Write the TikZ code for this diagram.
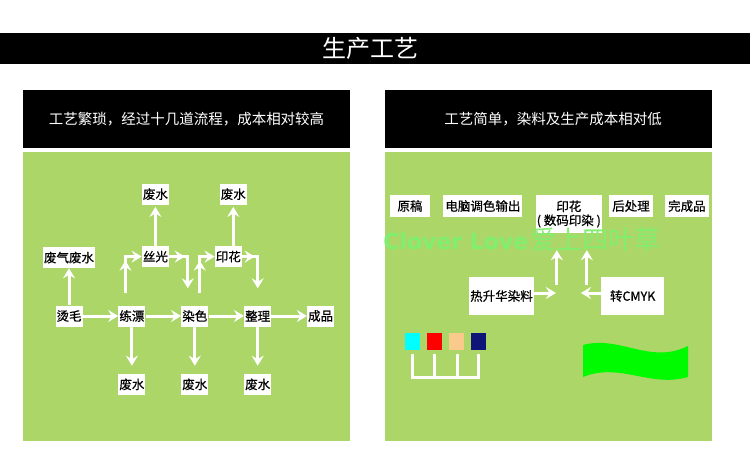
\documentclass[tikz,border=0pt]{standalone}
\usepackage{fontspec}
\setmainfont{Noto Sans CJK SC}
\newfontfamily\boxfont{Noto Sans CJK SC}[FakeBold=0.7]
\newfontfamily\wmfont{DejaVu Sans}
\usetikzlibrary{positioning,arrows.meta}
\definecolor{leaf}{RGB}{173,214,105}
\definecolor{wmgreen}{RGB}{128,238,110}
\definecolor{aqua}{RGB}{0,255,255}
\definecolor{skin}{RGB}{250,202,140}
\definecolor{ink}{RGB}{14,20,120}
\definecolor{flaggreen}{RGB}{0,250,0}
\tikzstyle{box} = [rectangle,
                    fill=white,
                    inner xsep=1pt,
                    inner ysep=0pt,
                    minimum height=21pt,
                    text centered,
                    font=\boxfont\fontsize{12.5}{14}\selectfont]
\tikzstyle{rbox} = [box,
                    minimum height=22pt,
                    font=\boxfont\fontsize{12.5}{14}\selectfont]
\tikzstyle{arr} = [draw=white,
                    line width=3pt,
                    -{Stealth[length=10pt,width=12pt,inset=3.5pt]}]

\begin{document}
\begin{tikzpicture}[x=1pt, y=1pt, node distance=35.5pt]
\useasboundingbox (0,0) rectangle (750,448);
\fill[black] (0,384) rectangle (750,415);
\node (t0) at (370,400) [text=white, font=\fontsize{24}{24}\selectfont] {生产工艺};
\fill[black] (23,300) rectangle (350,358);
\fill[leaf] (23,7) rectangle (350,296);
\fill[black] (385,300) rectangle (712,358);
\fill[leaf] (385,7) rectangle (712,296);
\node (h1) at (186.5,329) [text=white, font=\fontsize{14.5}{14}\selectfont] {工艺繁琐，经过十几道流程，成本相对较高};
\node (h2) at (553,329) [text=white, font=\fontsize{14.5}{14}\selectfont] {工艺简单，染料及生产成本相对低};

% left panel
\node (l1) at (69,132) [box] {烫毛};
\node (l2) [box, right= of l1] {练漂};
\node (l3) [box, right= of l2] {染色};
\node (l4) [box, right= of l3] {整理};
\node (l5) [box, right= of l4] {成品};
\node (l6) [box, below=47pt of l2] {废水};
\node (l7) [box, below=47pt of l3] {废水};
\node (l8) [box, below=47pt of l4] {废水};
\node (l9) [box, above=37pt of l1] {废气废水};
\node (l10) [box, above=38pt of l2, xshift=23.5pt] {丝光};
\node (l11) [box, above=38pt of l3, xshift=33.5pt] {印花};
\node (l12) [box, above=41pt of l10] {废水};
\node (l13) [box, above=41pt of l11, xshift=5pt] {废水};

\draw[arr] (l1) -- (l2);
\draw[arr] (l2) -- (l3);
\draw[arr] (l3) -- (l4);
\draw[arr] (l4) -- (l5);
\draw[arr, shorten >=8pt] (l2) -- (l6);
\draw[arr, shorten >=8pt] (l3) -- (l7);
\draw[arr, shorten >=8pt] (l4) -- (l8);
\draw[arr] (l1) -- (l9);
\draw[arr, shorten >=2pt] (l10) -- (l12);
\draw[arr, shorten >=2pt] (l11.north -| l13.south) -- (l13.south);

\coordinate (c1) at ([xshift=-6.5pt,yshift=12pt]l2.north);
\coordinate (c2) at (c1 |- l10.west);
\draw[arr] (c1) |- (l10.west);
\draw[arr] (c1) -- ([yshift=-4pt]c2);
\coordinate (c3) at ([xshift=-7pt,yshift=17pt]l3.north);
\coordinate (c4) at (c3 |- l10.east);
\draw[arr] (l10.east) -| (c3);
\draw[arr] (l10.east) -- ([xshift=-3pt]c4);
\coordinate (c5) at ([xshift=5pt,yshift=12pt]l3.north);
\coordinate (c6) at (c5 |- l11.west);
\draw[arr] (c5) |- (l11.west);
\draw[arr] (c5) -- ([yshift=-4pt]c6);
\coordinate (c7) at ([yshift=17pt]l4.north);
\coordinate (c8) at (c7 |- l11.east);
\draw[arr] (l11.east) -| (c7);
\draw[arr] (l11.east) -- ([xshift=-3pt]c8);

% right panel
\node (r1) at (410,242) [rbox, minimum width=40pt] {原稿};
\node (r2) [rbox, right=13pt of r1, inner xsep=2pt] {电脑调色输出};
\node (r3) [rbox, right=13pt of r2.north east, anchor=north west, align=center, minimum width=64pt, minimum height=38pt] {印花\\( 数码印染 )};
\node (r4) [rbox, right=7pt of r3.north east, anchor=north west, inner xsep=3pt] {后处理};
\node (r5) [rbox, right=12pt of r4, inner xsep=3pt] {完成品};
\node (r6) at (501.5,152) [rbox, minimum width=63pt, minimum height=38pt] {热升华染料};
\node (r7) [rbox, right=67pt of r6, minimum width=63pt, minimum height=38pt] {转CMYK};

\coordinate (k1) at ([xshift=-12pt,yshift=-52pt]r3.south);
\coordinate (k2) at ([xshift=18pt,yshift=-52pt]r3.south);
\coordinate (k3) at ([xshift=-12pt,yshift=-17pt]r3.south);
\coordinate (k4) at ([xshift=18pt,yshift=-17pt]r3.south);
\coordinate (k5) at ([xshift=22pt,yshift=3pt]r6.east);
\coordinate (k6) at ([xshift=-20pt,yshift=3pt]r7.west);
\draw[arr] (k1) -- (k3);
\draw[arr] (k2) -- (k4);
\draw[arr] ([yshift=3pt]r6.east) -- (k5);
\draw[arr] ([yshift=3pt]r7.west) -- (k6);

\foreach \c [count=\i] in {aqua,red,skin,ink}
  \fill[\c] (383+22*\i,98) rectangle ++(15,17);
\draw[white, line width=3pt] (412,94) -- (412,71) -- (478,71) -- (478,94);
\foreach \x in {434,457}
  \draw[white, line width=3pt] (\x,94) -- (\x,71);

\fill[flaggreen] (583,103) .. controls (620,113) and (650,83) .. (688,102)
  -- (688,71) .. controls (650,60) and (620,86) .. (583,71) -- cycle;

\node (wm) at (522,208) [text=wmgreen, inner sep=0pt] {{\wmfont\bfseries\fontsize{22}{22}\selectfont Clover Love} {\fontsize{26}{26}\selectfont 爱上四叶草}};
\end{tikzpicture}
\end{document}
